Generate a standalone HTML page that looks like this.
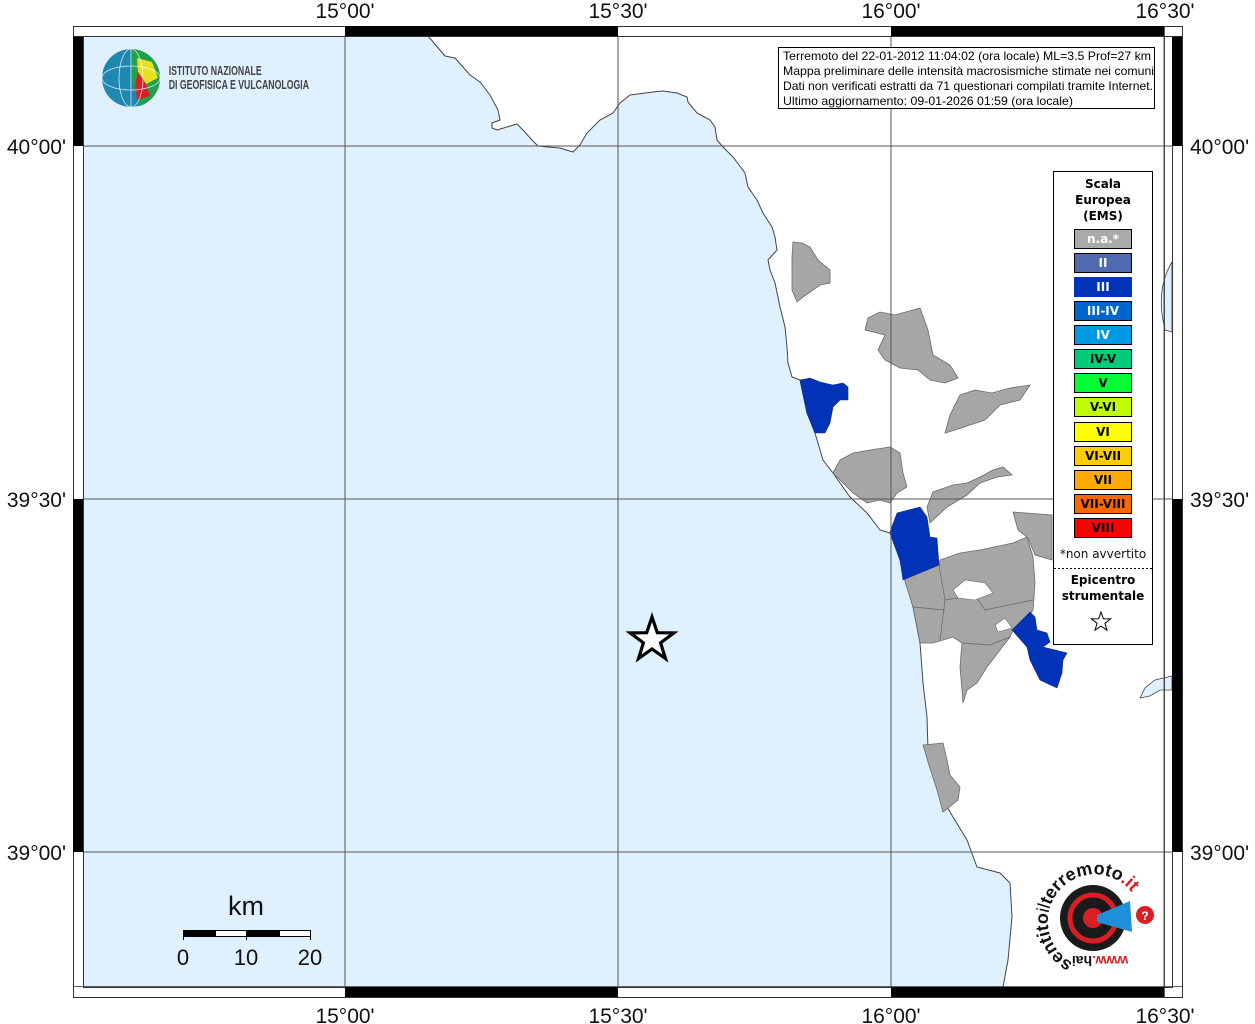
<!DOCTYPE html>
<html><head><meta charset="utf-8"><style>
html,body{margin:0;padding:0;background:#fff;}
svg{display:block;}
</style></head><body>
<svg width="1255" height="1024" viewBox="0 0 1255 1024" xmlns="http://www.w3.org/2000/svg" font-family="Liberation Sans, sans-serif">
<rect x="0" y="0" width="1255" height="1024" fill="#fff"/>
<path fill="#dff0fe" d="M83,36 L428,36 L445,56 L455,58 L470,75 L480,82 L490,95 L498,110 L500,120 L492,123 L492,128 L497,130 L507,127 L517,124 L523,130 L532,140 L538,146 L548,147 L560,148 L573,152 L580,145 L587,133 L600,120 L613,113 L620,103 L630,95 L653,92 L663,91 L677,93 L687,97 L688,102 L697,113 L710,120 L715,127 L717,140 L723,147 L733,157 L745,173 L748,187 L757,200 L763,213 L772,227 L775,237 L777,250 L768,260 L770,270 L775,283 L780,307 L785,327 L787,347 L788,363 L792,377 L800,380 L807,413 L815,433 L823,460 L833,473 L850,497 L867,513 L880,530 L890,533 L900,560 L913,607 L920,643 L923,683 L927,717 L928,750 L937,777 L943,800 L953,817 L967,840 L977,867 L1000,873 L1010,883 L1012,917 L1008,960 L1003,987 L83,987 Z"/>
<path fill="none" stroke="#444" stroke-width="1" d="M428,36 L445,56 L455,58 L470,75 L480,82 L490,95 L498,110 L500,120 L492,123 L492,128 L497,130 L507,127 L517,124 L523,130 L532,140 L538,146 L548,147 L560,148 L573,152 L580,145 L587,133 L600,120 L613,113 L620,103 L630,95 L653,92 L663,91 L677,93 L687,97 L688,102 L697,113 L710,120 L715,127 L717,140 L723,147 L733,157 L745,173 L748,187 L757,200 L763,213 L772,227 L775,237 L777,250 L768,260 L770,270 L775,283 L780,307 L785,327 L787,347 L788,363 L792,377 L800,380 L807,413 L815,433 L823,460 L833,473 L850,497 L867,513 L880,530 L890,533 L900,560 L913,607 L920,643 L923,683 L927,717 L928,750 L937,777 L943,800 L953,817 L967,840 L977,867 L1000,873 L1010,883 L1012,917 L1008,960 L1003,987"/>
<path fill="#dff0fe" stroke="#444" stroke-width="0.8" d="M1172,262 Q1155,290 1165,330 L1172,332 Z"/>
<path fill="#dff0fe" stroke="#444" stroke-width="0.8" d="M1172,676 L1155,680 L1145,688 L1140,698 L1150,696 L1160,690 L1172,690 Z"/>
<g fill="#a6a6a6" stroke="#6a6a6a" stroke-width="0.8">
<path d="M793,242 L802,243 L810,247 L818,260 L830,270 L830,283 L820,285 L803,297 L797,302 L792,290 L792,257 Z"/>
<path d="M868,318 L880,312 L895,315 L920,308 L928,330 L933,355 L950,365 L958,378 L945,383 L930,380 L918,370 L900,368 L885,360 L878,350 L885,335 L865,330 Z"/>
<path d="M960,395 L975,390 L992,393 L1010,388 L1030,385 L1020,400 L1000,405 L985,420 L970,425 L955,430 L945,433 L950,415 Z"/>
<path d="M833,473 L840,460 L853,453 L870,450 L890,447 L900,453 L903,473 L907,487 L897,493 L890,503 L880,500 L867,503 L853,493 Z"/>
<path d="M927,507 L933,492 L953,485 L967,483 L980,477 L993,470 L1003,467 L1012,475 L997,477 L980,483 L967,495 L947,507 L930,523 Z"/>
<path d="M903,575 L939,565 L940,560 L960,553 L980,550 L1013,543 L1027,537 L1033,557 L1035,583 L1033,610 L1028,617 L1013,630 L1010,637 L1000,650 L987,667 L977,683 L967,690 L963,703 L962,690 L960,667 L962,643 L953,637 L933,643 L920,643 L913,607 Z"/>
<path d="M1013,512 L1052,515 L1052,560 L1035,555 L1028,538 L1018,530 Z"/>
<path d="M923,745 L943,743 L947,760 L950,775 L960,787 L958,800 L943,812 L937,790 L928,762 Z"/>
</g>
<g fill="none" stroke="#666" stroke-width="0.7">
<path d="M939,565 L945,600 L940,640"/><path d="M945,600 L975,595 L985,610 L1033,600"/><path d="M913,607 L945,610"/><path d="M962,643 L990,645 L1010,637"/>
</g>
<g fill="#fff" stroke="#666" stroke-width="0.6">
<path d="M953,590 L965,580 L985,583 L993,593 L975,600 L958,598 Z"/>
<path d="M995,625 L1005,618 L1012,628 L998,632 Z"/>
</g>
<g fill="#0033b8" stroke="#1a2a80" stroke-width="0.6">
<path d="M800,380 L810,378 L820,382 L833,385 L843,383 L848,387 L848,400 L840,400 L833,407 L830,423 L825,433 L815,433 L807,413 Z"/>
<path d="M890,532 L897,513 L920,507 L927,517 L930,537 L937,538 L939,565 L903,580 L900,560 Z"/>
<path d="M1012,630 L1030,612 L1035,617 L1037,630 L1047,633 L1050,642 L1043,647 L1067,653 L1063,660 L1062,673 L1057,688 L1040,680 L1030,660 L1027,647 Z"/>
</g>
<g stroke="#555" stroke-width="1">
<line x1="345" y1="36" x2="345" y2="987"/><line x1="618" y1="36" x2="618" y2="987"/><line x1="891" y1="36" x2="891" y2="987"/><line x1="1164" y1="36" x2="1164" y2="987"/>
<line x1="83" y1="146" x2="1172" y2="146"/><line x1="83" y1="499" x2="1172" y2="499"/><line x1="83" y1="852" x2="1172" y2="852"/>
</g>
<g stroke="#333" stroke-width="1">
<rect x="73.5" y="26.5" width="1109" height="971" fill="none"/>
<rect x="83.5" y="36.5" width="1089" height="951" fill="none"/>
</g>
<g fill="#000">
<rect x="345" y="26" width="273" height="10"/><rect x="891" y="26" width="273" height="10"/>
<rect x="345" y="987" width="273" height="10"/><rect x="891" y="987" width="273" height="10"/>
<rect x="73" y="36" width="10" height="110"/><rect x="73" y="499" width="10" height="353"/>
<rect x="1172" y="36" width="10" height="110"/><rect x="1172" y="499" width="10" height="353"/>
</g>
<g stroke="#333" stroke-width="0.8"><line x1="1164.5" y1="26" x2="1164.5" y2="997"/><line x1="73" y1="36.5" x2="1182" y2="36.5"/><line x1="73" y1="986.5" x2="1182" y2="986.5"/></g>
<g font-size="21" fill="#111" text-anchor="middle">
<text x="345" y="18">15°00'</text><text x="618" y="18">15°30'</text><text x="891" y="18">16°00'</text><text x="1165" y="18">16°30'</text>
<text x="345" y="1023">15°00'</text><text x="618" y="1023">15°30'</text><text x="891" y="1023">16°00'</text><text x="1165" y="1023">16°30'</text>
</g>
<g font-size="21" fill="#111">
<text x="66" y="154" text-anchor="end">40°00'</text><text x="66" y="507" text-anchor="end">39°30'</text><text x="66" y="860" text-anchor="end">39°00'</text>
<text x="1190" y="154">40°00'</text><text x="1190" y="507">39°30'</text><text x="1190" y="860">39°00'</text>
</g>
<circle cx="131" cy="78" r="29" fill="#1e88b0"/>
<path d="M131,49 A29,29 0 0,1 160,78 A29,29 0 0,1 140,106 L131,78 Z" fill="#22a04a"/>
<path d="M137,58 L152,62 L158,78 L146,84 L138,72 Z" fill="#e8e020"/>
<path d="M138,72 L146,84 L150,96 L137,100 L135,85 Z" fill="#d81f26"/>
<g stroke="#fff" stroke-width="0.8" fill="none" opacity="0.8"><ellipse cx="131" cy="78" rx="12" ry="29"/><ellipse cx="131" cy="78" rx="29" ry="12"/><line x1="131" y1="49" x2="131" y2="107"/></g>
<g font-size="12.5" fill="#444" font-weight="bold" transform="scale(0.7,1)">
<text x="241" y="75">ISTITUTO NAZIONALE</text><text x="241" y="89">DI GEOFISICA E VULCANOLOGIA</text></g>
<rect x="778.5" y="47.5" width="376" height="61" fill="#fff" stroke="#000" stroke-width="1"/>
<g font-size="12" fill="#000"><text x="783" y="60" textLength="368" lengthAdjust="spacingAndGlyphs">Terremoto del 22-01-2012 11:04:02 (ora locale) ML=3.5 Prof=27 km</text>
<text x="783" y="75" textLength="371" lengthAdjust="spacingAndGlyphs">Mappa preliminare delle intensità macrosismiche stimate nei comuni</text>
<text x="783" y="90" textLength="370" lengthAdjust="spacingAndGlyphs">Dati non verificati estratti da 71 questionari compilati tramite Internet.</text>
<text x="783" y="105" textLength="290" lengthAdjust="spacingAndGlyphs">Ultimo aggiornamento: 09-01-2026 01:59 (ora locale)</text></g>
<rect x="1053.5" y="171.5" width="99" height="473" fill="#fff" stroke="#000"/>
<g font-family="DejaVu Sans, sans-serif" font-weight="bold" font-size="12" text-anchor="middle" fill="#000">
<text x="1103" y="188">Scala</text><text x="1103" y="204">Europea</text><text x="1103" y="220">(EMS)</text></g>
<g stroke="#000" stroke-width="1">
<rect x="1074.5" y="229.5" width="57" height="19" fill="#aaa"/>
<rect x="1074.5" y="253.5" width="57" height="19" fill="#4f6ab0"/>
<rect x="1074.5" y="277.5" width="57" height="19" fill="#0033b8" stroke="#0033b8"/>
<rect x="1074.5" y="301.5" width="57" height="19" fill="#0066cc"/>
<rect x="1074.5" y="325.5" width="57" height="19" fill="#0099e6"/>
<rect x="1074.5" y="349.5" width="57" height="19" fill="#00cc77"/>
<rect x="1074.5" y="373.5" width="57" height="19" fill="#00ff33"/>
<rect x="1074.5" y="397.5" width="57" height="19" fill="#c0ff00"/>
<rect x="1074.5" y="422.5" width="57" height="19" fill="#ffff00"/>
<rect x="1074.5" y="446.5" width="57" height="19" fill="#ffcc00"/>
<rect x="1074.5" y="470.5" width="57" height="19" fill="#ffaa00"/>
<rect x="1074.5" y="494.5" width="57" height="19" fill="#ff6600"/>
<rect x="1074.5" y="518.5" width="57" height="19" fill="#ff0000"/>
</g>
<g font-family="DejaVu Sans, sans-serif" font-weight="bold" font-size="12" text-anchor="middle">
<text x="1103" y="243" fill="#fff">n.a.*</text><text x="1103" y="267" fill="#fff">II</text><text x="1103" y="291" fill="#fff">III</text><text x="1103" y="315" fill="#fff">III-IV</text><text x="1103" y="339" fill="#fff">IV</text>
<text x="1103" y="363">IV-V</text><text x="1103" y="387">V</text><text x="1103" y="411">V-VI</text><text x="1103" y="436">VI</text><text x="1103" y="460">VI-VII</text><text x="1103" y="484">VII</text><text x="1103" y="508">VII-VIII</text><text x="1103" y="532">VIII</text>
</g>
<text x="1103" y="558" font-family="DejaVu Sans, sans-serif" font-size="12" text-anchor="middle" fill="#111">*non avvertito</text>
<line x1="1054" y1="568.5" x2="1152" y2="568.5" stroke="#000" stroke-dasharray="2,2"/>
<g font-family="DejaVu Sans, sans-serif" font-weight="bold" font-size="12" text-anchor="middle"><text x="1103" y="584">Epicentro</text><text x="1103" y="600">strumentale</text></g>
<path d="M1101,612 L1103.4,618.8 L1110.6,618.9 L1104.9,623.3 L1107,630.2 L1101,626.1 L1095,630.2 L1097.1,623.3 L1091.4,618.9 L1098.6,618.8 Z" fill="#fff" stroke="#000" stroke-width="1"/>
<path d="M652,617 L657.3,632.7 L673.9,632.9 L660.6,642.8 L665.5,658.6 L652,649 L638.5,658.6 L643.4,642.8 L630.1,632.9 L646.7,632.7 Z" fill="#fff" stroke="#000" stroke-width="3.2" stroke-linejoin="miter"/>
<text x="246" y="915" font-size="27" text-anchor="middle" fill="#111">km</text>
<rect x="183.5" y="930.5" width="127" height="6" fill="#fff" stroke="#000"/>
<rect x="183" y="930" width="32" height="7" fill="#000"/><rect x="247" y="930" width="32" height="7" fill="#000"/>
<g stroke="#000"><line x1="183.5" y1="930" x2="183.5" y2="940"/><line x1="246.5" y1="930" x2="246.5" y2="940"/><line x1="310.5" y1="930" x2="310.5" y2="940"/><line x1="215.5" y1="930" x2="215.5" y2="937"/><line x1="279.5" y1="930" x2="279.5" y2="937"/></g>
<g font-size="22" text-anchor="middle" fill="#111"><text x="183" y="965">0</text><text x="246" y="965">10</text><text x="310" y="965">20</text></g>
<circle cx="1093" cy="918" r="33" fill="#1a1a1a"/>
<circle cx="1093" cy="918" r="23" fill="none" stroke="#d81f26" stroke-width="5"/>
<circle cx="1093" cy="918" r="10" fill="#d81f26"/>
<path d="M1097,915 L1130,901 L1132,932 L1097,922 Z" fill="#1e8fd8"/>
<circle cx="1145" cy="915" r="9" fill="#d81f26"/>
<text x="1145" y="920" font-size="12" font-weight="bold" fill="#fff" text-anchor="middle">?</text>
<defs><path id="ring" d="M1073,963 A47,47 0 1,1 1136,944"/></defs>
<text font-size="18" fill="#111" font-weight="bold"><textPath href="#ring">sentito<tspan font-weight="normal">il</tspan>terremoto<tspan fill="#d81f26">.it</tspan></textPath></text>
<text x="1100" y="968" font-size="14" fill="#d81f26" font-weight="bold" text-anchor="middle" transform="rotate(180 1100 962)">www.<tspan fill="#111">hai</tspan></text>
</svg>
</body></html>
